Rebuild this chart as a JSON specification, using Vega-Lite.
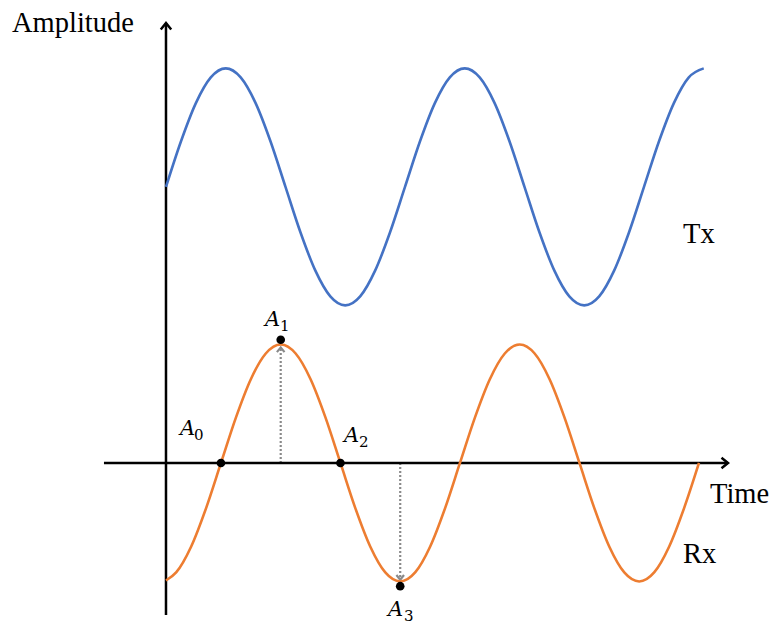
{
  "$schema": "https://vega.github.io/schema/vega-lite/v6.json",
  "width": 773,
  "height": 624,
  "padding": 0,
  "autosize": {"type": "none"},
  "background": "white",
  "config": {"view": {"stroke": null}},
  "datasets": {
    "axes": [
      {"t": 0, "y": -1.283, "t2": 0, "y2": 3.713},
      {"t": -1.038, "y": 0, "t2": 9.406, "y2": 0}
    ],
    "axisHeads": [
      {"t": 0, "y": 3.713, "dir": "up"},
      {"t": 9.406, "y": 0, "dir": "right"}
    ],
    "guides": [
      {"t": 1.92, "y": 0, "y2": 0.975},
      {"t": 3.92, "y": 0, "y2": -0.985}
    ],
    "guideHeads": [
      {"t": 1.92, "y": 0.975, "dir": "up"},
      {"t": 3.92, "y": -0.985, "dir": "down"}
    ],
    "tx": [
      {"t": 0, "y": 2.33}, {"t": 0.25, "y": 2.713}, {"t": 0.5, "y": 3.037}, {"t": 0.75, "y": 3.254},
      {"t": 1, "y": 3.33}, {"t": 1.25, "y": 3.254}, {"t": 1.5, "y": 3.037}, {"t": 1.75, "y": 2.713},
      {"t": 2, "y": 2.33}, {"t": 2.25, "y": 1.947}, {"t": 2.5, "y": 1.623}, {"t": 2.75, "y": 1.406},
      {"t": 3, "y": 1.33}, {"t": 3.25, "y": 1.406}, {"t": 3.5, "y": 1.623}, {"t": 3.75, "y": 1.947},
      {"t": 4, "y": 2.33}, {"t": 4.25, "y": 2.713}, {"t": 4.5, "y": 3.037}, {"t": 4.75, "y": 3.254},
      {"t": 5, "y": 3.33}, {"t": 5.25, "y": 3.254}, {"t": 5.5, "y": 3.037}, {"t": 5.75, "y": 2.713},
      {"t": 6, "y": 2.33}, {"t": 6.25, "y": 1.947}, {"t": 6.5, "y": 1.623}, {"t": 6.75, "y": 1.406},
      {"t": 7, "y": 1.33}, {"t": 7.25, "y": 1.406}, {"t": 7.5, "y": 1.623}, {"t": 7.75, "y": 1.947},
      {"t": 8, "y": 2.33}, {"t": 8.25, "y": 2.713}, {"t": 8.5, "y": 3.037}, {"t": 8.75, "y": 3.254},
      {"t": 9, "y": 3.33}
    ],
    "rx": [
      {"t": 0, "y": -0.992}, {"t": 0.17, "y": -0.924}, {"t": 0.42, "y": -0.707}, {"t": 0.67, "y": -0.383},
      {"t": 0.92, "y": 0}, {"t": 1.17, "y": 0.383}, {"t": 1.42, "y": 0.707}, {"t": 1.67, "y": 0.924},
      {"t": 1.92, "y": 1}, {"t": 2.17, "y": 0.924}, {"t": 2.42, "y": 0.707}, {"t": 2.67, "y": 0.383},
      {"t": 2.92, "y": 0}, {"t": 3.17, "y": -0.383}, {"t": 3.42, "y": -0.707}, {"t": 3.67, "y": -0.924},
      {"t": 3.92, "y": -1}, {"t": 4.17, "y": -0.924}, {"t": 4.42, "y": -0.707}, {"t": 4.67, "y": -0.383},
      {"t": 4.92, "y": 0}, {"t": 5.17, "y": 0.383}, {"t": 5.42, "y": 0.707}, {"t": 5.67, "y": 0.924},
      {"t": 5.92, "y": 1}, {"t": 6.17, "y": 0.924}, {"t": 6.42, "y": 0.707}, {"t": 6.67, "y": 0.383},
      {"t": 6.92, "y": 0}, {"t": 7.17, "y": -0.383}, {"t": 7.42, "y": -0.707}, {"t": 7.67, "y": -0.924},
      {"t": 7.92, "y": -1}, {"t": 8.17, "y": -0.924}, {"t": 8.42, "y": -0.707}, {"t": 8.67, "y": -0.383},
      {"t": 8.92, "y": 0}
    ],
    "pts": [
      {"t": 0.92, "y": 0},
      {"t": 1.92, "y": 1.04},
      {"t": 2.92, "y": 0},
      {"t": 3.92, "y": -1.04}
    ],
    "labs": [
      {"t": 0.234, "y": 0.236, "text": "A", "ts": 0.469, "ys": 0.194, "sub": "0"},
      {"t": 1.657, "y": 1.156, "text": "A", "ts": 1.908, "ys": 1.114, "sub": "1"},
      {"t": 2.979, "y": 0.177, "text": "A", "ts": 3.23, "ys": 0.135, "sub": "2"},
      {"t": 3.716, "y": -1.29, "text": "A", "ts": 3.983, "ys": -1.33, "sub": "3"}
    ],
    "texts": [
      {"t": -2.577, "y": 3.637, "text": "Amplitude"},
      {"t": 9.105, "y": -0.338, "text": "Time"},
      {"t": 8.653, "y": 1.857, "text": "Tx"},
      {"t": 8.653, "y": -0.844, "text": "Rx"}
    ]
  },
  "encoding": {
    "x": {"field": "t", "type": "quantitative", "scale": {"domain": [-2.778, 10.159], "nice": false, "zero": false}, "axis": null},
    "y": {"field": "y", "type": "quantitative", "scale": {"domain": [-1.359, 3.907], "nice": false, "zero": false}, "axis": null}
  },
  "layer": [
    {
      "data": {"name": "guides"},
      "mark": {"type": "rule", "color": "#8a8a8a", "strokeWidth": 2.2, "strokeDash": [2, 2]},
      "encoding": {"y2": {"field": "y2"}}
    },
    {
      "data": {"name": "guideHeads"},
      "mark": {"type": "point", "filled": false, "color": "#8a8a8a", "strokeWidth": 2.2, "size": 90, "opacity": 1},
      "encoding": {
        "shape": {"field": "dir", "type": "nominal", "scale": {"domain": ["up", "right", "down"], "range": ["M-0.8,1L0,0L0.8,1", "M-1,-0.8L0,0L-1,0.8", "M-0.8,-1L0,0L0.8,-1"]}, "legend": null}
      }
    },
    {
      "data": {"name": "axes"},
      "mark": {"type": "rule", "color": "black", "strokeWidth": 2.5},
      "encoding": {"x2": {"field": "t2"}, "y2": {"field": "y2"}}
    },
    {
      "data": {"name": "axisHeads"},
      "mark": {"type": "point", "filled": false, "color": "black", "strokeWidth": 2.5, "size": 170, "opacity": 1},
      "encoding": {
        "shape": {"field": "dir", "type": "nominal", "scale": {"domain": ["up", "right", "down"], "range": ["M-0.8,1L0,0L0.8,1", "M-1,-0.8L0,0L-1,0.8", "M-0.8,-1L0,0L0.8,-1"]}, "legend": null}
      }
    },
    {
      "data": {"name": "tx"},
      "mark": {"type": "line", "color": "#4472C4", "strokeWidth": 2.6, "interpolate": "monotone"},
      "encoding": {}
    },
    {
      "data": {"name": "rx"},
      "mark": {"type": "line", "color": "#ED7D31", "strokeWidth": 2.6, "interpolate": "monotone"},
      "encoding": {}
    },
    {
      "data": {"name": "pts"},
      "mark": {"type": "circle", "color": "black", "size": 75, "opacity": 1}
    },
    {
      "data": {"name": "labs"},
      "mark": {"type": "text", "font": "DejaVu Serif", "fontStyle": "italic", "fontSize": 21, "align": "left", "baseline": "alphabetic", "color": "black"},
      "encoding": {"text": {"field": "text"}}
    },
    {
      "data": {"name": "labs"},
      "mark": {"type": "text", "font": "DejaVu Serif", "fontSize": 15, "align": "left", "baseline": "alphabetic", "color": "black"},
      "encoding": {
        "x": {"field": "ts", "type": "quantitative"},
        "y": {"field": "ys", "type": "quantitative"},
        "text": {"field": "sub"}
      }
    },
    {
      "data": {"name": "texts"},
      "mark": {"type": "text", "font": "Liberation Serif", "fontSize": 28.5, "align": "left", "baseline": "alphabetic", "color": "black"},
      "encoding": {"text": {"field": "text"}}
    }
  ]
}
